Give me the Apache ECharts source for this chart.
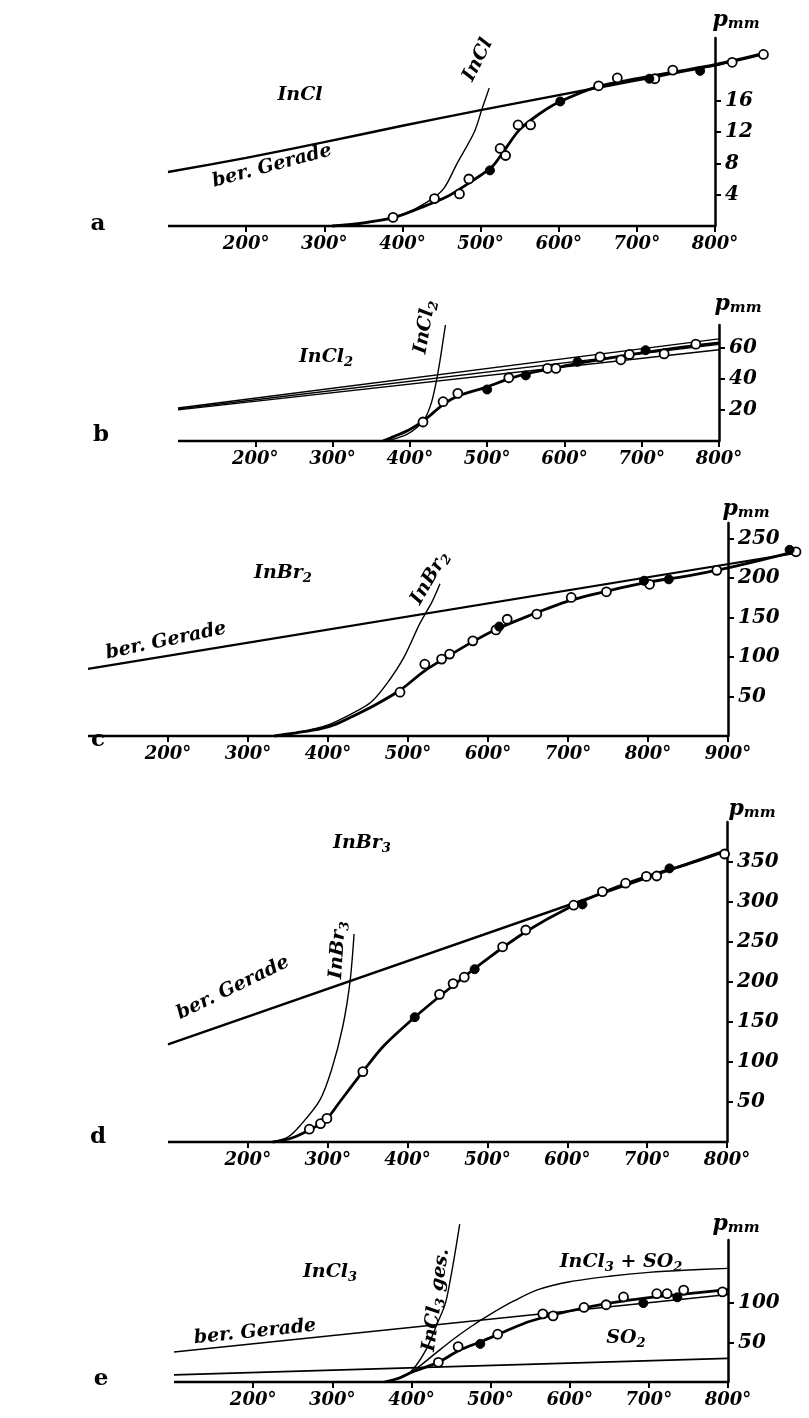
<!DOCTYPE html>
<html><head><meta charset="utf-8">
<script src="https://cdn.jsdelivr.net/npm/echarts@6/dist/echarts.min.js"></script>
<style>html,body{margin:0;padding:0;background:#fff}#c{width:809px;height:1418px}</style>
</head><body><div id="c"></div><script>
// ---------- tick labels ----------
const xTicks800 = [200,300,400,500,600,700,800];
const xTicks900 = [200,300,400,500,600,700,800,900];
const yTicksA = [4,8,12,16];
const yTicksB = [20,40,60];
const yTicksC = [50,100,150,200,250];
const yTicksD = [50,100,150,200,250,300,350];
const yTicksE = [50,100];

// ---------- panel a : InCl ----------
const aOpen = [[388,1.1],[441,3.5],[473,4.1],[485,6.0],[525,9.9],[532,9.0],[548,12.9],[564,12.9],[651,17.9],[675,18.9],[723,18.8],[746,19.9],[822,20.9],[862,21.9]];
const aFilled = [[512,7.1],[602,15.9],[716,18.8],[781,19.8]];
const aCurve = [[310,0],[350,0.4],[390,1.1],[430,2.6],[460,3.9],[490,5.8],[515,7.6],[530,9.6],[550,12.3],[575,14.3],[600,15.8],[650,17.8],[700,18.8],[750,19.7],[800,20.6],[865,22.1]];
const aLine = [[100,6.9],[200,8.7],[300,10.7],[400,12.8],[500,14.8],[600,16.7],[700,18.6],[800,20.5],[865,22.0]];
const aTheory = [[320,0],[360,0.5],[403,1.6],[434,3.2],[453,4.8],[470,8],[492,12],[502,15],[511,17.6]];

// ---------- panel b : InCl2 ----------
const bOpen = [[417,12.3],[443,25.4],[462,30.8],[528,40.9],[578,46.9],[589,46.9],[646,54.4],[673,52.5],[684,56],[729,56.3],[770,62.6]];
const bFilled = [[500,33.3],[550,42.4],[617,51.2],[705,58.7]];
const bCurve = [[365,0],[380,3],[400,7.5],[420,14],[443,23.5],[462,29],[500,35],[530,40.5],[560,44.5],[600,48.5],[650,53],[700,57],[750,60.5],[800,63.5]];
const bLine1 = [[100,21.3],[800,66]];
const bLine2 = [[100,20.7],[800,62.5]];
const bLine3 = [[100,20.1],[800,59]];
const bTheory = [[370,0],[395,4],[410,9],[420,15],[428,25],[434,38],[439,52],[443,65],[446,75]];

// ---------- panel c : InBr2 ----------
const cOpen = [[490,55.5],[521,91],[542,97.5],[552,103.8],[581,120.6],[610,134.5],[624,148],[661,154.6],[704,175.6],[748,182.8],[802,192.3],[886,210],[985,233.5]];
const cFilled = [[614,138.7],[795,196.8],[826,198.6],[977,236]];
const cCurve = [[333,0],[360,4],[390,9],[410,15],[435,27],[460,40],[490,58],[520,82],[550,101],[580,119],[610,135],[650,152],[700,171],[750,184],[800,195],[850,203],[900,213],[985,234]];
const cLine = [[100,85],[985,232]];
const cTheory = [[333,0],[360,4],[400,14],[433,30],[454,43],[474,67],[495,100],[515,143],[530,170],[540,193]];

// ---------- panel d : InBr3 ----------
const dOpen = [[277,16],[291,23],[299,29.5],[344,88],[440,184.6],[457,198],[471,206],[519,244],[548,265],[608,296],[644,313],[673,323.5],[699,332],[712,332.5],[797,360]];
const dFilled = [[409,156],[484,216],[619,297],[728,342]];
const dCurve = [[231,0],[255,5],[277,15],[291,23],[300,30],[315,50],[344,88],[370,120],[409,156],[450,190],[500,229],[550,264],[600,292],[650,314],[700,332],[750,347],[800,364]];
const dLine = [[100,122],[800,365]];
const dTheory = [[231,0],[250,6],[265,20],[290,52],[305,91],[319,145],[328,201],[333,260]];

// ---------- panel e : InCl3 ----------
const eOpen = [[434,25],[459,44.9],[509,60.6],[566,86.4],[579,83.9],[618,94.5],[646,97.9],[668,107.8],[710,111.9],[723,111.9],[744,116.5],[793,114.3]];
const eFilled = [[487,48.3],[693,100],[736,107.3]];
const eCurve = [[366,0],[385,5],[402,13],[434,25],[460,40],[490,52],[520,65],[550,77],[600,90],[650,100],[700,107],[750,112],[800,117]];
const eMix = [[370,0],[390,7],[410,20],[430,36],[450,52],[475,70],[500,86],[530,103],[560,117],[600,127],[650,134],[700,139],[750,142],[800,144]];
const eTheory = [[368,0],[385,6],[400,14],[418,40],[433,75],[443,100],[451,140],[457,175],[461,200]];
const eLine = [[100,38],[800,111]];
const eSO2 = [[100,9],[800,30]];

// ---------- build ----------
const FF = "'DejaVu Serif', 'Liberation Serif', serif";
const panels = [
  {left:168, top:38, pw:547, height:188, xEnd:800, xMax:870, yMax:24, xT:xTicks800, yT:yTicksA,
   thin:[aTheory], thick:[aCurve], straight:[[aLine,2.4]], open:aOpen, filled:aFilled},
  {left:178, top:325, pw:541, height:116, xEnd:800, xMax:800, yMax:75, xT:xTicks800, yT:yTicksB,
   thin:[bTheory], thick:[bCurve], straight:[[bLine1,1.4],[bLine2,1.4],[bLine3,1.4]], open:bOpen, filled:bFilled},
  {left:88, top:523, pw:640, height:213, xEnd:900, xMax:990, yMax:270, xT:xTicks900, yT:yTicksC,
   thin:[cTheory], thick:[cCurve], straight:[[cLine,2.2]], open:cOpen, filled:cFilled},
  {left:168, top:822, pw:559, height:320, xEnd:800, xMax:800, yMax:400, xT:xTicks800, yT:yTicksD,
   thin:[dTheory], thick:[dCurve], straight:[[dLine,2.4]], open:dOpen, filled:dFilled},
  {left:174, top:1240, pw:554, height:142, xEnd:800, xMax:800, yMax:180, xT:xTicks800, yT:yTicksE,
   thin:[eTheory, eMix], thick:[eCurve], straight:[[eLine,1.6],[eSO2,1.6]], open:eOpen, filled:eFilled}
];

const labelStyle = {fontFamily:FF, fontStyle:'italic', fontWeight:'bold', color:'#000'};
const grid=[], xAxis=[], yAxis=[], series=[];
panels.forEach((p,i)=>{
  const pxPerDeg = p.pw/(p.xEnd-100);
  grid.push({left:p.left, top:p.top, width:pxPerDeg*(p.xMax-100), height:p.height});
  xAxis.push({gridIndex:i, type:'value', min:100, max:p.xMax,
    axisLine:{show:false},
    axisTick:{show:true, customValues:p.xT, length:6, lineStyle:{color:'#000', width:2}},
    axisLabel:Object.assign({customValues:p.xT, formatter:v=>v+'°', margin:9, fontSize:18}, labelStyle),
    splitLine:{show:false}});
  yAxis.push({gridIndex:i, type:'value', position:'right', min:0, max:p.yMax,
    offset:-pxPerDeg*(p.xMax-p.xEnd),
    axisLine:{show:true, onZero:false, lineStyle:{color:'#000', width:2.5}},
    axisTick:{show:true, customValues:p.yT, length:6, lineStyle:{color:'#000', width:2}},
    axisLabel:Object.assign({customValues:p.yT, margin:10, fontSize:20}, labelStyle),
    splitLine:{show:false}});
  const ln = (data,w,z,sm)=>({type:'line', xAxisIndex:i, yAxisIndex:i, data, symbol:'none', smooth:sm,
    lineStyle:{color:'#000', width:w}, clip:false, silent:true, z:z});
  // x axis base line, from 100° to the p-axis
  series.push(ln([[100,0],[p.xEnd,0]],2.5,4,false));
  p.straight.forEach(s=>series.push(ln(s[0],s[1],2,0.3)));
  p.thin.forEach(s=>series.push(ln(s,1.4,2,0.3)));
  p.thick.forEach(s=>series.push(ln(s,2.8,3,0.3)));
  series.push({type:'scatter', xAxisIndex:i, yAxisIndex:i, data:p.open, symbol:'circle', symbolSize:9, clip:false, z:5,
    itemStyle:{color:'#fff', borderColor:'#000', borderWidth:1.8, opacity:1}});
  series.push({type:'scatter', xAxisIndex:i, yAxisIndex:i, data:p.filled, symbol:'circle', symbolSize:9, clip:false, z:5,
    itemStyle:{color:'#000', borderColor:'#000', borderWidth:1, opacity:1}});
});

// ---------- annotations ----------
const rich = {
  n:{fontFamily:FF, fontStyle:'italic', fontWeight:'bold', fontSize:19, lineHeight:24, fill:'#000'},
  s:{fontFamily:FF, fontStyle:'italic', fontWeight:'bold', fontSize:13, lineHeight:10, verticalAlign:'bottom', fill:'#000'},
  p:{fontFamily:FF, fontStyle:'italic', fontWeight:'bold', fontSize:22, lineHeight:24, fill:'#000'},
  m:{fontFamily:FF, fontStyle:'italic', fontWeight:'bold', fontSize:15, lineHeight:12, verticalAlign:'bottom', fill:'#000'},
  L:{fontFamily:FF, fontWeight:'bold', fontSize:23, fill:'#000'}
};
const notes = [
  ['{n|InCl}',300,95,0], ['{n|InCl}',478,60,63], ['{n|ber. Gerade}',272,166,15],
  ['{n|InCl}{s|2}',326,357,0], ['{n|InCl}{s|2}',425,327,80],
  ['{n|InBr}{s|2}',283,573,0], ['{n|InBr}{s|2}',430,578,60], ['{n|ber. Gerade}',166,641,12],
  ['{n|InBr}{s|3}',362,843,0], ['{n|InBr}{s|3}',338,950,86], ['{n|ber. Gerade}',233,988,26],
  ['{n|InCl}{s|3}',330,1272,0], ['{n|InCl}{s|3}{n| ges.}',436,1300,82], ['{n|InCl}{s|3}{n| + SO}{s|2}',621,1262,0],
  ['{n|SO}{s|2}',626,1338,0], ['{n|ber. Gerade}',255,1332,6],
  ['{p|p}{m|mm}',736,20,0], ['{p|p}{m|mm}',738,304,0], ['{p|p}{m|mm}',746,509,0], ['{p|p}{m|mm}',752,809,0], ['{p|p}{m|mm}',736,1224,0],
  ['{L|a}',98,224,0], ['{L|b}',101,435,0], ['{L|c}',98,740,0], ['{L|d}',98,1137,0], ['{L|e}',101,1379,0]
];
const graphic = notes.map(n=>({type:'text', x:n[1], y:n[2], rotation:n[3]*Math.PI/180, z:10,
  style:{text:n[0], rich:rich, align:'center', verticalAlign:'middle', fill:'#000'}}));

const chart = echarts.init(document.getElementById('c'), null, {renderer:'canvas'});
chart.setOption({animation:false, backgroundColor:'#fff', grid, xAxis, yAxis, series, graphic});
</script></body></html>
